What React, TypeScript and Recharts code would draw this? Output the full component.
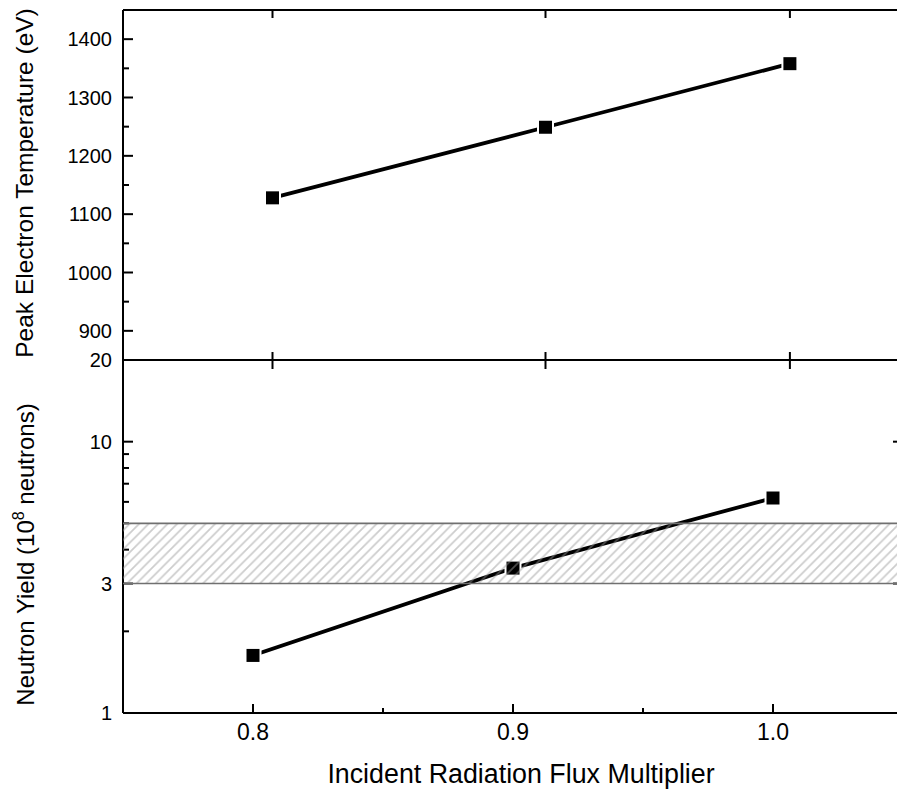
import React from "react";
import {
	Label,
	Line,
	LineChart,
	ReferenceArea,
	ReferenceLine,
	XAxis,
	YAxis,
} from "recharts";

// top panel: peak electron temperature
const fluxTop = [0.8075, 0.9125, 1.0065];
const peakTemp = [1128, 1249, 1358];

// bottom panel: neutron yield (1e8 neutrons)
const fluxBottom = [0.8, 0.9, 1.0];
const neutronYield = [1.63, 3.42, 6.2];
const measuredBand = [3, 5];

const tempMajor = [900, 1000, 1100, 1200, 1300, 1400];
const tempMinor = [950, 1050, 1150, 1250, 1350];
const yieldMajor = [1, 3, 10, 20];
const yieldMinor = [2, 4, 5, 6, 7, 8, 9];
const fluxMajor = [0.8, 0.9, 1.0];
const fluxMinor = [0.85, 0.95];

const FONT = '"Liberation Sans", Arial, Helvetica, sans-serif';
const X_DOMAIN = [0.75, 1.05];

const topData = fluxTop.map((x, i) => ({ x, temp: peakTemp[i] }));
const bottomData = fluxBottom.map((x, i) => ({ x, y: neutronYield[i] }));

const leftTick = (major: number[]) => (props: any) => {
	const { x, y, payload } = props;
	const isMajor = major.includes(payload.value);
	return (
		<g>
			<line x1={x} y1={y} x2={x + (isMajor ? 10 : 6)} y2={y} stroke="#000" strokeWidth={2} />
			{isMajor && (
				<text x={x - 11} y={y} dy="0.36em" textAnchor="end" fontSize={20} fontFamily={FONT} fill="#000">
					{payload.value}
				</text>
			)}
		</g>
	);
};

const rightTick = (major: number[]) => (props: any) => {
	const { x, y, payload } = props;
	const isMajor = major.includes(payload.value);
	return <line x1={x} y1={y} x2={x - (isMajor ? 10 : 5)} y2={y} stroke="#000" strokeWidth={2} />;
};

const crossTick = (props: any) => {
	const { x, y } = props;
	return <line x1={x} y1={y - 8} x2={x} y2={y + 9} stroke="#000" strokeWidth={2} />;
};

const topTick = (props: any) => {
	const { x, y } = props;
	return <line x1={x} y1={y} x2={x} y2={y + 8} stroke="#000" strokeWidth={2} />;
};

const bottomTick = (props: any) => {
	const { x, y, payload } = props;
	const isMajor = fluxMajor.includes(payload.value);
	return (
		<g>
			<line x1={x} y1={y} x2={x} y2={y - (isMajor ? 9 : 5)} stroke="#000" strokeWidth={2} />
			{isMajor && (
				<text x={x} y={y + 19} dy="0.36em" textAnchor="middle" fontSize={23} fontFamily={FONT} fill="#000">
					{payload.value.toFixed(1)}
				</text>
			)}
		</g>
	);
};

const SquareDot = (props: any) => {
	const { cx, cy } = props;
	if (cx == null || cy == null) return null;
	return <rect x={cx - 7.5} y={cy - 7.5} width={15} height={15} fill="#000" stroke="#fff" strokeWidth={2} />;
};

const axisLine = { stroke: "#000", strokeWidth: 2 };

export default function App() {
	return (
		<div
			style={{
				position: "absolute",
				left: 0,
				top: 0,
				width: 897,
				height: 790,
				overflow: "hidden",
				background: "#fff",
			}}
		>
			<div style={{ position: "absolute", left: 0, top: 0 }}>
				<LineChart width={904} height={370} data={topData} margin={{ top: 9, right: 0, bottom: 9, left: 0 }}>
					<XAxis
						dataKey="x"
						type="number"
						domain={X_DOMAIN}
						ticks={fluxTop}
						interval={0}
						height={1}
						tickSize={0}
						tickMargin={0}
						axisLine={axisLine}
						tickLine={false}
						tick={crossTick}
					/>
					<XAxis
						xAxisId="top"
						orientation="top"
						dataKey="x"
						type="number"
						domain={X_DOMAIN}
						ticks={fluxTop}
						interval={0}
						height={1}
						tickSize={0}
						tickMargin={0}
						axisLine={axisLine}
						tickLine={false}
						tick={topTick}
					/>
					<YAxis
						type="number"
						domain={[850, 1450]}
						ticks={[...tempMajor, ...tempMinor]}
						interval={0}
						width={123}
						tickSize={0}
						tickMargin={0}
						axisLine={axisLine}
						tickLine={false}
						tick={leftTick(tempMajor)}
					>
						<Label
							content={(p: any) => {
								const vb = p.viewBox;
								const cy = vb.y + vb.height / 2 - 2;
								return (
									<text
										transform={`translate(${vb.x + 33}, ${cy}) rotate(-90)`}
										textAnchor="middle"
										fontSize={24.5}
										fontFamily={FONT}
										fill="#000"
									>
										Peak Electron Temperature (eV)
									</text>
								);
							}}
						/>
					</YAxis>
					<YAxis
						yAxisId="right"
						orientation="right"
						type="number"
						domain={[850, 1450]}
						ticks={[...tempMajor, ...tempMinor]}
						interval={0}
						width={1}
						tickSize={0}
						tickMargin={0}
						axisLine={false}
						tickLine={false}
						tick={rightTick(tempMajor)}
					/>
					<Line
						type="linear"
						dataKey="temp"
						stroke="#000"
						strokeWidth={3.8}
						dot={<SquareDot />}
						activeDot={false}
						isAnimationActive={false}
					/>
				</LineChart>
			</div>

			<div style={{ position: "absolute", left: 0, top: 340 }}>
				<LineChart width={904} height={450} data={bottomData} margin={{ top: 20, right: 0, bottom: 0, left: 0 }}>
					<XAxis
						dataKey="x"
						type="number"
						domain={X_DOMAIN}
						ticks={[...fluxMajor, ...fluxMinor]}
						interval={0}
						height={77}
						tickSize={0}
						tickMargin={0}
						axisLine={axisLine}
						tickLine={false}
						tick={bottomTick}
					>
						<Label
							content={(p: any) => {
								const vb = p.viewBox;
								return (
									<text
										x={vb.x + vb.width / 2 + 8}
										y={vb.y + 70}
										textAnchor="middle"
										fontSize={26.8}
										fontFamily={FONT}
										fill="#000"
									>
										Incident Radiation Flux Multiplier
									</text>
								);
							}}
						/>
					</XAxis>
					<YAxis
						type="number"
						scale="log"
						domain={[1, 20]}
						allowDataOverflow
						ticks={[...yieldMajor, ...yieldMinor]}
						interval={0}
						width={123}
						tickSize={0}
						tickMargin={0}
						axisLine={axisLine}
						tickLine={false}
						tick={leftTick(yieldMajor)}
					>
						<Label
							content={(p: any) => {
								const vb = p.viewBox;
								const cy = vb.y + vb.height / 2 + 18;
								return (
									<text
										transform={`translate(${vb.x + 34}, ${cy}) rotate(-90)`}
										textAnchor="middle"
										fontSize={24}
										fontFamily={FONT}
										fill="#000"
									>
										Neutron Yield (10
										<tspan dy={-10} fontSize={16}>
											8
										</tspan>
										<tspan dy={10}> neutrons)</tspan>
									</text>
								);
							}}
						/>
					</YAxis>
					<YAxis
						yAxisId="right"
						orientation="right"
						type="number"
						scale="log"
						domain={[1, 20]}
						allowDataOverflow
						ticks={[...yieldMajor, ...yieldMinor]}
						interval={0}
						width={1}
						tickSize={0}
						tickMargin={0}
						axisLine={false}
						tickLine={false}
						tick={rightTick(yieldMajor)}
					/>
					<Line
						type="linear"
						dataKey="y"
						stroke="#000"
						strokeWidth={3.8}
						dot={<SquareDot />}
						activeDot={false}
						isAnimationActive={false}
					/>
				</LineChart>
			</div>

			{/* hatched measured band, drawn over the line like the original */}
			<div style={{ position: "absolute", left: 0, top: 340, pointerEvents: "none" }}>
				<LineChart width={904} height={450} data={bottomData} margin={{ top: 20, right: 0, bottom: 0, left: 0 }}>
					<defs>
						<pattern id="hatch" patternUnits="userSpaceOnUse" width={9.5} height={9.5}>
							<path
								d="M-2,2 L2,-2 M0,9.5 L9.5,0 M7.5,11.5 L11.5,7.5"
								stroke="#999999"
								strokeWidth={1.7}
							/>
						</pattern>
					</defs>
					<XAxis dataKey="x" type="number" domain={X_DOMAIN} height={77} tick={false} axisLine={false} tickLine={false} />
					<YAxis
						type="number"
						scale="log"
						domain={[1, 20]}
						allowDataOverflow
						width={123}
						tick={false}
						axisLine={false}
						tickLine={false}
					/>
					<YAxis yAxisId="right" orientation="right" width={1} tick={false} axisLine={false} tickLine={false} />
					<ReferenceArea y1={measuredBand[0]} y2={measuredBand[1]} fill="url(#hatch)" stroke="none" />
					<ReferenceLine y={measuredBand[0]} stroke="#707070" strokeWidth={1.6} />
					<ReferenceLine y={measuredBand[1]} stroke="#707070" strokeWidth={1.6} />
				</LineChart>
			</div>
		</div>
	);
}
